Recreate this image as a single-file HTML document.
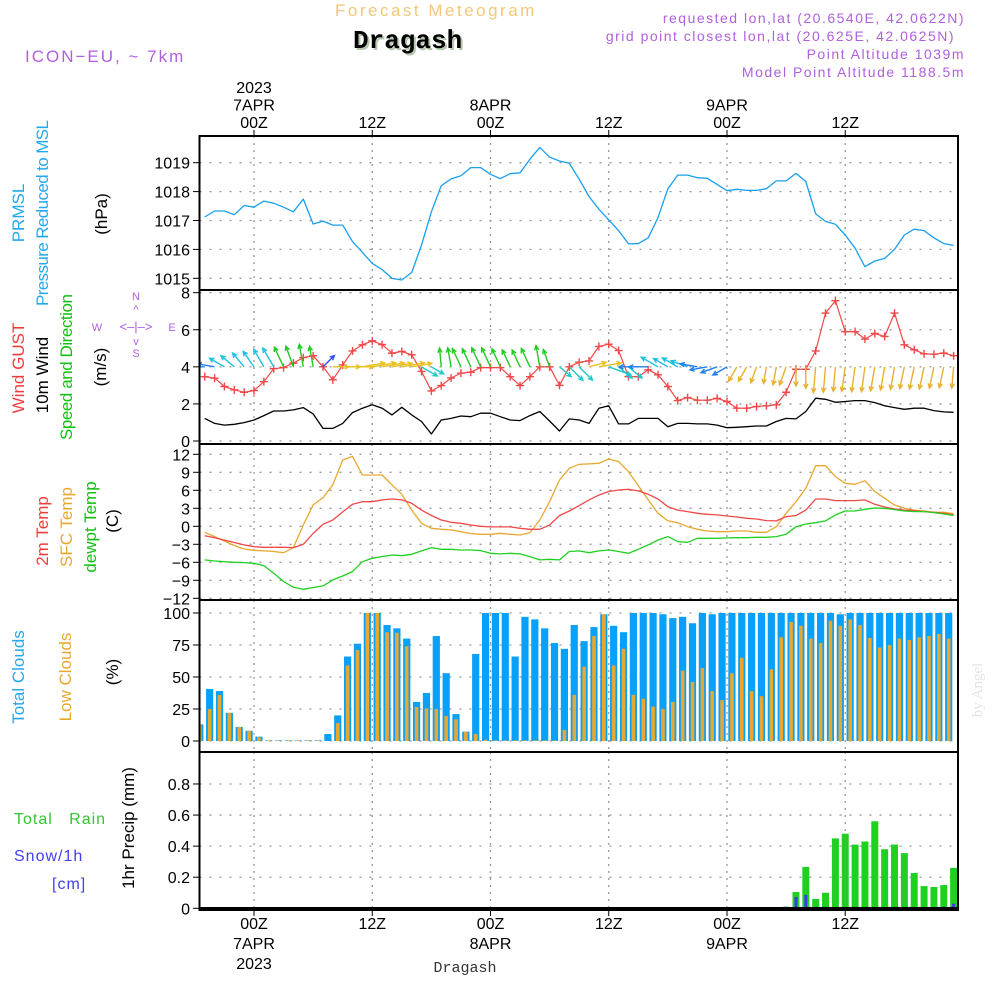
<!DOCTYPE html>
<html><head><meta charset="utf-8"><style>
html,body{margin:0;padding:0;background:#fff}
svg{display:block}
.tk{font-size:16px;fill:#000;font-family:"Liberation Sans",sans-serif}
.rl{font-size:17px;font-family:"Liberation Sans",sans-serif}
.hd{letter-spacing:1.5px;font-family:"Liberation Sans",sans-serif}
.sans{font-family:"Liberation Sans",sans-serif}
</style></head><body>
<svg id="chart" xmlns="http://www.w3.org/2000/svg" width="1000" height="1000" viewBox="0 0 1000 1000">
<g id="header">
<text x="335" y="16" font-size="17" fill="#f2c87a" class="hd" style="letter-spacing:2.5px">Forecast Meteogram</text>
<text x="355" y="50" font-size="26" font-weight="bold" fill="#b8c8b0" style="font-family:'Liberation Mono',monospace">Dragash</text>
<text x="353" y="48" font-size="26" font-weight="bold" fill="#000" style="font-family:'Liberation Mono',monospace">Dragash</text>
<text x="25" y="62" font-size="17" fill="#b060e0" class="sans" style="letter-spacing:2px">ICON−EU, ~ 7km</text>
<text x="965" y="23" font-size="14" fill="#b060e0" text-anchor="end" class="hd">requested lon,lat (20.6540E, 42.0622N)</text>
<text x="955" y="41" font-size="14" fill="#b060e0" text-anchor="end" class="hd">grid point closest lon,lat (20.625E, 42.0625N)</text>
<text x="965" y="59" font-size="14" fill="#b060e0" text-anchor="end" class="hd">Point Altitude 1039m</text>
<text x="965" y="77" font-size="14" fill="#b060e0" text-anchor="end" class="hd">Model Point Altitude 1188.5m</text>
</g>
<g id="ylabels">
<text class="rl" fill="#22a8f0" transform="translate(24,213) rotate(-90)" text-anchor="middle">PRMSL</text>
<text class="rl" fill="#22a8f0" transform="translate(48,213) rotate(-90)" text-anchor="middle" textLength="186">Pressure Reduced to MSL</text>
<text class="rl" fill="#000" transform="translate(107,214) rotate(-90)" text-anchor="middle">(hPa)</text>
<text class="rl" fill="#f03c3c" transform="translate(24,368) rotate(-90)" text-anchor="middle">Wind GUST</text>
<text class="rl" fill="#000" transform="translate(48,375) rotate(-90)" text-anchor="middle">10m Wind</text>
<text class="rl" fill="#10c010" transform="translate(72,367) rotate(-90)" text-anchor="middle" textLength="146">Speed and Direction</text>
<text class="rl" fill="#000" transform="translate(106,367) rotate(-90)" text-anchor="middle">(m/s)</text>
<g fill="#b060e0" font-size="11" class="sans">
<text x="136" y="300" text-anchor="middle">N</text>
<text x="136" y="357" text-anchor="middle">S</text>
<text x="97" y="331" text-anchor="middle">W</text>
<text x="172" y="331" text-anchor="middle">E</text>
<text x="136" y="331" text-anchor="middle" font-size="13">&lt;–|–&gt;</text>
<text x="136" y="313" text-anchor="middle" font-size="11">^</text>
<text x="136" y="345" text-anchor="middle" font-size="11">v</text>
</g>
<text class="rl" fill="#f03c3c" transform="translate(48,531) rotate(-90)" text-anchor="middle">2m Temp</text>
<text class="rl" fill="#e8a830" transform="translate(72,527) rotate(-90)" text-anchor="middle">SFC Temp</text>
<text class="rl" fill="#10c010" transform="translate(96,527) rotate(-90)" text-anchor="middle">dewpt Temp</text>
<text class="rl" fill="#000" transform="translate(118,521) rotate(-90)" text-anchor="middle">(C)</text>
<text class="rl" fill="#22a8f0" transform="translate(24,677) rotate(-90)" text-anchor="middle">Total Clouds</text>
<text class="rl" fill="#e8a830" transform="translate(71,677) rotate(-90)" text-anchor="middle">Low Clouds</text>
<text class="rl" fill="#000" transform="translate(118,672) rotate(-90)" text-anchor="middle">(%)</text>
<text class="rl" fill="#000" transform="translate(134,828) rotate(-90)" text-anchor="middle">1hr Precip (mm)</text>
<text x="14" y="824" font-size="16" fill="#30c830" class="sans" style="letter-spacing:1px;white-space:pre">Total   Rain</text>
<text x="14" y="861" font-size="16" fill="#4040f0" class="sans" style="letter-spacing:1px">Snow/1h</text>
<text x="52" y="889" font-size="16" fill="#4040f0" class="sans" style="letter-spacing:1px">[cm]</text>
<text font-size="15" fill="#e4e4e4" style="font-family:'Liberation Serif',serif" transform="translate(982,690) rotate(-90)" text-anchor="middle">by Angel</text>
<text x="465" y="972" font-size="15" fill="#333" style="font-family:'Liberation Mono',monospace" text-anchor="middle">Dragash</text>
</g>
<g id="plot"></g>
</svg>
<script>
// hours from -5 to 71 (00Z 7APR = 0)
const hours = []; for (let h = -5; h <= 71; h++) hours.push(h);
const pressure = [1017.12,1017.33,1017.33,1017.2,1017.52,1017.46,1017.67,1017.6,1017.46,1017.3,1017.74,1016.88,1016.98,1016.84,1016.84,1016.27,1015.9,1015.52,1015.3,1015.0,1014.94,1015.2,1016.15,1017.3,1018.2,1018.44,1018.55,1018.83,1018.83,1018.6,1018.45,1018.62,1018.65,1019.12,1019.53,1019.19,1019.06,1018.98,1018.43,1017.83,1017.39,1017.02,1016.65,1016.19,1016.2,1016.4,1017.1,1018.1,1018.57,1018.57,1018.48,1018.46,1018.25,1018.03,1018.08,1018.04,1018.04,1018.1,1018.37,1018.37,1018.63,1018.35,1017.23,1016.97,1016.87,1016.5,1016.04,1015.4,1015.6,1015.69,1016.0,1016.5,1016.7,1016.65,1016.4,1016.2,1016.14];
const gust = [3.47,3.39,2.94,2.76,2.63,2.72,3.2,3.9,3.96,4.2,4.5,4.6,4.0,3.3,4.1,4.86,5.19,5.4,5.2,4.74,4.83,4.65,3.75,2.7,2.99,3.4,3.66,3.71,3.96,3.96,3.96,3.47,2.99,3.47,4.0,4.0,3.0,4.0,4.25,4.32,5.1,5.22,4.88,3.47,3.47,3.84,3.57,2.94,2.18,2.34,2.2,2.2,2.3,2.13,1.77,1.77,1.86,1.9,1.95,2.63,3.87,3.87,4.86,6.9,7.57,5.9,5.9,5.5,5.8,5.64,6.9,5.19,4.92,4.7,4.68,4.74,4.6];
const windSpeed = [1.22,0.95,0.86,0.9,0.99,1.13,1.37,1.62,1.62,1.68,1.8,1.46,0.68,0.68,0.95,1.53,1.77,1.95,1.77,1.41,1.82,1.41,1.05,0.38,1.13,1.22,1.35,1.31,1.5,1.5,1.31,1.13,1.1,1.37,1.59,1.08,0.54,1.19,1.13,0.95,1.77,1.9,0.92,0.92,1.22,1.22,1.22,0.77,0.95,0.95,0.92,0.92,0.86,0.72,0.74,0.77,0.81,0.81,1.05,1.22,1.19,1.59,2.31,2.25,2.09,2.13,2.18,2.18,2.07,1.9,1.8,1.71,1.77,1.77,1.64,1.57,1.55];
// direction arrows point toward (degrees, 0=east, 90=north)
const windTo = [180,170,150,140,130,125,120,120,115,110,100,100,45,0,0,0,10,10,10,10,10,10,-30,-30,95,100,115,115,115,115,115,115,115,115,100,110,-40,-45,-45,15,10,-20,-40,-40,180,180,150,150,150,160,170,190,200,210,240,240,250,260,260,250,270,270,265,265,265,262,262,262,260,260,260,258,258,258,258,258,265];
const t2m = [-1.56,-1.9,-2.3,-2.7,-3.1,-3.4,-3.5,-3.5,-3.5,-3.55,-3.0,-1.2,0.33,1.05,2.4,3.67,4.1,4.1,4.4,4.55,4.4,3.83,2.7,1.8,1.05,0.67,0.5,0.22,0,-0.1,-0.1,-0.1,-0.33,-0.5,-0.5,0.22,1.8,2.55,3.45,4.4,5.2,5.8,6.05,6.17,5.9,5.33,4.55,3.27,2.7,2.45,2.17,2.0,1.9,1.72,1.55,1.33,1.22,0.95,0.9,1.6,1.8,2.7,4.55,4.55,4.28,4.28,4.28,4.4,3.67,3.22,2.9,2.7,2.6,2.45,2.33,2.17,1.9];
const tsfc = [-1.0,-1.72,-2.45,-3.2,-3.78,-4.0,-4.1,-4.2,-4.4,-3.55,0.22,3.55,4.78,6.9,11.05,11.67,8.55,8.55,8.55,6.9,5.33,2.7,0.5,-0.33,-0.5,-0.6,-0.9,-1.22,-1.33,-1.33,-1.17,-1.33,-1.45,-1.05,1.05,4.1,7.72,9.67,10.33,10.4,10.5,11.22,10.78,9.1,6.78,4.4,2.17,0.9,0.6,-0.06,-0.5,-0.78,-0.9,-0.9,-0.78,-0.78,-1.0,-1.0,-0.06,2.17,4.1,6.33,10.1,10.1,8.28,7.17,7.0,7.6,5.78,4.67,3.55,3.0,2.7,2.55,2.33,2.33,2.1];
const dewpt = [-5.6,-5.78,-5.9,-6.0,-6.05,-6.17,-6.55,-7.83,-9.2,-10.17,-10.5,-10.2,-9.94,-8.94,-8.28,-7.55,-5.9,-5.33,-5.05,-4.78,-4.9,-4.67,-4.1,-3.55,-3.83,-3.83,-3.95,-3.95,-4.05,-4.5,-4.6,-4.5,-4.6,-5.05,-5.6,-5.5,-5.6,-4.2,-4.1,-4.4,-4.1,-3.95,-4.2,-4.5,-3.83,-3.1,-2.28,-1.72,-2.55,-2.67,-2.0,-2.0,-2.0,-1.94,-1.9,-1.9,-1.83,-1.83,-1.72,-1.33,-0.06,0.39,0.6,0.9,1.9,2.55,2.55,2.83,3.05,3.0,2.78,2.55,2.45,2.45,2.28,2.05,1.8];
// cloud bars, one per hour, period ending (centred at hour - 0.5)
const totalClouds = [13,40.6,39,22,11,8,3.4,0.5,0.5,0.5,0.5,0.5,0.5,5.5,20,66,76,100,100,90.6,88,80,30.5,37.5,82,53,21,7.3,68,100,100,100,66,97,95,88,76.5,72,90.6,78,89,99,90,85,100,100,100,99,96,97,92,100,99,100,100,100,100,100,100,100,100,100,100,100,100,99,100,100,100,100,100,100,100,100,100,100,100];
const lowClouds = [13,25,36,22,11,8,3,0.5,0.5,0.5,0.5,0.5,0.5,0,14,59,71,100,100,85,84.6,74,26.5,25.5,25,19.5,17,7.3,5.5,1,0.5,0.5,0.5,0.5,0.5,0.5,0.5,8.6,36,58,82,99,59,72,36,33,27,25,30.5,55,46,57,39,32,53,65,39,35,56,81,93,90,80,76.5,94,90,95,90.6,80.5,73,75,80,79,81,82,83.6,80];
const rain = [0,0,0,0,0,0,0,0,0,0,0,0,0,0,0,0,0,0,0,0,0,0,0,0,0,0,0,0,0,0,0,0,0,0,0,0,0,0,0,0,0,0,0,0,0,0,0,0,0,0,0,0,0,0,0,0,0,0,0,0.01,0.105,0.266,0.06,0.1,0.45,0.48,0.41,0.43,0.56,0.38,0.41,0.355,0.227,0.143,0.137,0.15,0.26];
const snow = [0,0,0,0,0,0,0,0,0,0,0,0,0,0,0,0,0,0,0,0,0,0,0,0,0,0,0,0,0,0,0,0,0,0,0,0,0,0,0,0,0,0,0,0,0,0,0,0,0,0,0,0,0,0,0,0,0,0,0,0.01,0.073,0.086,0.005,0,0,0,0,0,0,0,0,0,0.005,0.005,0.005,0.01,0.03];
const pTicks = [1015,1016,1017,1018,1019];
const wTicks = [0,2,4,6,8];
const tTicks = [-12,-9,-6,-3,0,3,6,9,12];
const cTicks = [0,25,50,75,100];
const rTicks = [0,0.2,0.4,0.6,0.8];
const timeTicks = [0,12,24,36,48,60];
const timeTop = [["2023","7APR","00Z"],["","","12Z"],["","8APR","00Z"],["","","12Z"],["","9APR","00Z"],["","","12Z"]];
const timeBottom = [["00Z","7APR","2023"],["12Z","",""],["00Z","8APR",""],["12Z","",""],["00Z","9APR",""],["12Z","",""]];

const NS = "http://www.w3.org/2000/svg";
const L = 199.5, R = 958;
const X = h => 254 + h * 9.854;
const yP = v => 278.3 - (v - 1015) * 28.9;
const yW = v => 441 - v * 18.54;
const yT = v => 526.3 - v * 6.0;
const yC = v => 741 - v * 1.28;
const yR = v => 908.3 - v * 155.4;
const plot = document.getElementById('plot');
function mk(tag, attrs, parent) {
  const e = document.createElementNS(NS, tag);
  for (const k in attrs) e.setAttribute(k, attrs[k]);
  (parent || plot).appendChild(e);
  return e;
}
const defs = mk('defs', {});
const cp = mk('clipPath', {id: 'clip'}, defs);
mk('rect', {x: L, y: 130, width: R - L, height: 785}, cp);

const panels = [
  {name:'pressure', top:136, bot:290, ticks:pTicks, y:yP, fmt:v=>String(v)},
  {name:'wind', top:290, bot:444, ticks:wTicks, y:yW, fmt:v=>String(v)},
  {name:'temperature', top:444, bot:600, ticks:tTicks, y:yT, fmt:v=>v<0?'−'+(-v):String(v)},
  {name:'clouds', top:600, bot:752, ticks:cTicks, y:yC, fmt:v=>String(v)},
  {name:'precip', top:752, bot:910, ticks:rTicks, y:yR, fmt:v=>v===0?'0':v.toFixed(1)}
];
panels.forEach(p => {
  const g = mk('g', {});
  
  
  timeTicks.forEach(h => {
    const l = mk('line', {x1:X(h), x2:X(h), y1:p.top, y2:p.bot, stroke:'#999', 'stroke-width':1.3, 'stroke-dasharray':'2,5'}, g);
    
    
  });
  p.ticks.forEach(v => {
    const yy = p.y(v);
    const l = mk('line', {x1:L, x2:R, y1:yy, y2:yy, stroke:'#999', 'stroke-width':1.3, 'stroke-dasharray':'2,8'}, g);
    
    
    mk('line', {x1:193, x2:L, y1:yy, y2:yy, stroke:'#000', 'stroke-width':1}, g);
    const t = mk('text', {x:190, y:yy + 6, 'text-anchor':'end', class:'tk'}, g);
    
    
    t.textContent = p.fmt(v);
  });
});

const series = mk('g', {'clip-path':'url(#clip)'});
function line(arr, yf, color, name, w) {
  const pts = arr.map((v, i) => X(hours[i]).toFixed(1) + ',' + yf(v).toFixed(1)).join(' ');
  const e = mk('polyline', {points:pts, fill:'none', stroke:color, 'stroke-width':w || 1.3, 'stroke-linejoin':'round'}, series);
  
  
  return e;
}
totalClouds.forEach((v, i) => {
  const xc = X(hours[i] - 0.5);
  const b = mk('rect', {x:xc - 3.6, y:yC(v), width:7.2, height:yC(0) - yC(v), fill:'#08a0f8'}, series);
  
  
  const o = mk('rect', {x:xc - 1.8, y:yC(lowClouds[i]), width:3.6, height:yC(0) - yC(lowClouds[i]), fill:'#e8a830'}, series);
  
  
});
rain.forEach((v, i) => {
  const xc = X(hours[i]);
  if (v > 0) {
    const b = mk('rect', {x:xc - 3.5, y:yR(v), width:7, height:yR(0) - yR(v), fill:'#20d020'}, series);
    
    
  }
  if (snow[i] > 0) {
    const s = mk('rect', {x:xc - 1.5, y:yR(snow[i]), width:3, height:yR(0) - yR(snow[i]), fill:'#3a3af0'}, series);
    
    
  }
});
mk('line', {x1:L, x2:R, y1:yR(0), y2:yR(0), stroke:'#000', 'stroke-width':2.5}, series);
line(pressure, yP, '#18a0f0', 'pressure-line');
line(windSpeed, yW, '#000', 'wind-speed-line');
line(gust, yW, '#f04848', 'gust-line', 1.2);
gust.forEach((v, i) => {
  const x = X(hours[i]), y = yW(v);
  const m = mk('path', {d:`M${x-4},${y}H${x+4}M${x},${y-4}V${y+4}`, stroke:'#f04848', 'stroke-width':1.4}, series);
  
  
});
function arrowColor(a) {
  a = ((a % 360) + 360) % 360;
  if (a >= 225 && a <= 275) return '#e8b030';
  if (a > 275 && a < 300) return '#30c8a0';
  if (a >= 300 || a < 25) return a < 25 && a >= 0 ? '#e8c020' : '#20c8c8';
  if (a < 60) return '#3050f0';
  if (a < 118) return '#20cc20';
  if (a < 165) return '#20c0e0';
  return '#2080f0';
}
windTo.forEach((a, i) => {
  const x0 = X(hours[i]), y0 = yW(4);
  const len = 12 + 6 * windSpeed[i];
  const r = a * Math.PI / 180;
  const x1 = x0 + len * Math.cos(r), y1 = y0 - len * Math.sin(r);
  const hx1 = x1 - 5 * Math.cos(r - 0.45), hy1 = y1 + 5 * Math.sin(r - 0.45);
  const hx2 = x1 - 5 * Math.cos(r + 0.45), hy2 = y1 + 5 * Math.sin(r + 0.45);
  const e = mk('path', {d:`M${x0},${y0}L${x1},${y1}M${hx1},${hy1}L${x1},${y1}L${hx2},${hy2}`, stroke:arrowColor(a), 'stroke-width':1.4, fill:'none'}, series);
  
  
});
line(tsfc, yT, '#e8a830', 'sfc-temp-line');
line(t2m, yT, '#f04848', 't2m-line');
line(dewpt, yT, '#20d020', 'dewpoint-line');

panels.forEach(p => {
  const f = mk('rect', {x:L, y:p.top, width:R - L, height:p.bot - p.top, fill:'none', stroke:'#000', 'stroke-width':2});
  
  
});
timeTicks.forEach((h, i) => {
  const x = X(h);
  mk('line', {x1:x, x2:x, y1:130, y2:136, stroke:'#000'});
  mk('line', {x1:x, x2:x, y1:910, y2:916, stroke:'#000'});
  timeTop[i].forEach((s, j) => {
    if (!s) return;
    const t = mk('text', {x:x, y:93 + j * 17.5, 'text-anchor':'middle', class:'tk'});
    
    
    t.textContent = s;
  });
  timeBottom[i].forEach((s, j) => {
    if (!s) return;
    const t = mk('text', {x:x, y:929 + j * 20, 'text-anchor':'middle', class:'tk'});
    
    
    t.textContent = s;
  });
});
</script>
</body></html>
